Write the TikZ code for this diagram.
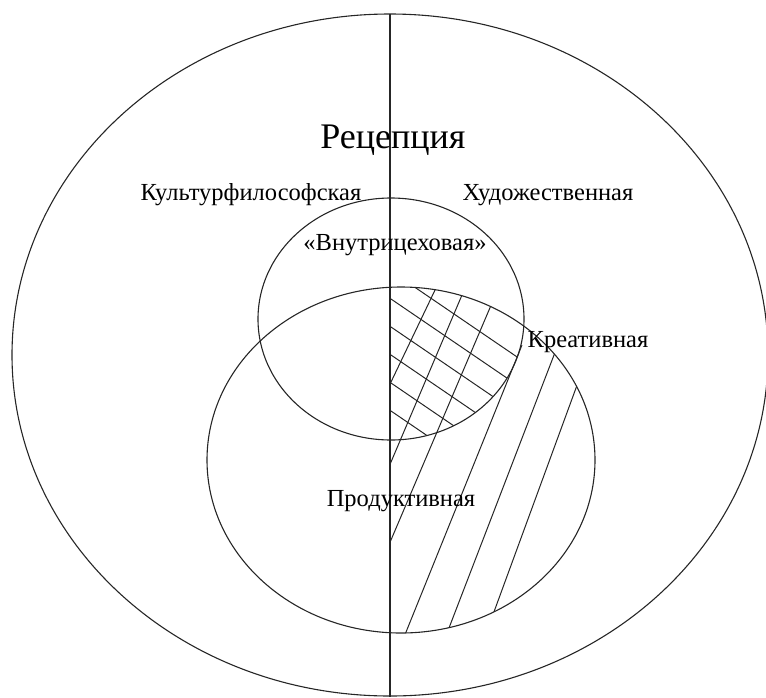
\documentclass[tikz,border=0pt]{standalone}
\usepackage{fontspec}
\setmainfont{Liberation Serif}

\begin{document}
\begin{tikzpicture}[x=1pt,y=-1pt,
  line/.style={line width=1.1pt, black!85},
  hatch/.style={line width=1pt, black!85},
  lbl/.style={anchor=base, inner sep=0pt, font=\fontsize{24.5}{28}\selectfont}]
\useasboundingbox (0,0) rectangle (766,697);

% Cross hatching (upper circle and lower ellipse, right half)
\begin{scope}
\clip (391,0) rectangle (766,697);
\clip (401,460) ellipse [x radius=194, y radius=173];
\clip (391,319) ellipse [x radius=133, y radius=121];
\foreach \k in {0,...,5}
  \draw[hatch] (391,271+28*\k) -- (611,271+28*\k+150);
\end{scope}

% Slanted hatching (lower ellipse, right half)
\begin{scope}
\clip (391,0) rectangle (766,697);
\clip (401,460) ellipse [x radius=194, y radius=173];
\draw[hatch] (464.7,228) -- (362.3,442);
\draw[hatch] (487.5,235) -- (365.5,522);
\draw[hatch] (514.6,250) -- (365.4,600);
\draw[hatch] (522,345) -- (381.8,692);
\draw[hatch] (577.1,295) -- (425.9,688);
\draw[hatch] (598,328) -- (469,680);
\end{scope}

% Ellipses
\draw[line] (390,355) ellipse [x radius=378, y radius=341];
\draw[line] (391,319) ellipse [x radius=133, y radius=121];
\draw[line] (401,460) ellipse [x radius=194, y radius=173];

% Axis
\coordinate (top) at (390,14);
\coordinate (bottom) at (390,697);
\draw[line] (top) -- (bottom);

% Labels
\node[lbl, font=\fontsize{36}{40}\selectfont] (title) at (393,148) {Рецепция};
\node[lbl] (culture) at (251,200) {Культурфилософская};
\node[lbl] (art) at (548,200) {Художественная};
\node[lbl] (inner) at (395,250) {«Внутрицеховая»};
\node[lbl] (creative) at (588,347) {Креативная};
\node[lbl] (product) at (401,506) {Продуктивная};
\end{tikzpicture}
\end{document}
